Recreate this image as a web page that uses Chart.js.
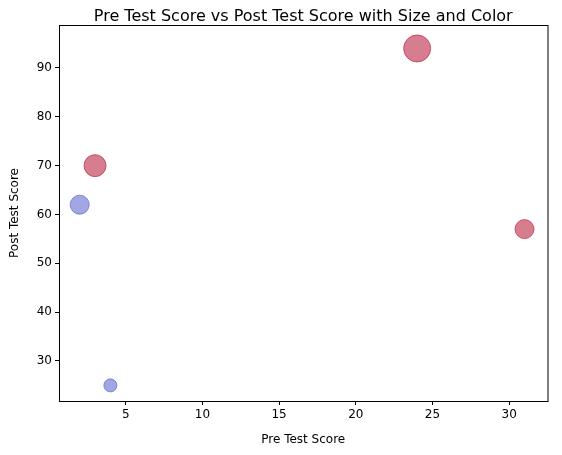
<!DOCTYPE html>
<html>
<head>
<meta charset="utf-8">
<script src="https://cdn.jsdelivr.net/npm/chart.js@4"></script>
<style>body{margin:0;background:#fff}</style>
</head>
<body>
<canvas id="c" width="562" height="455"></canvas>
<script>
// data
const preScores = [2, 3, 4, 24, 31];
const postScores = [62, 70, 25, 94, 57];
const sizes = [9.5, 11, 6.5, 13.5, 9.5];
const groups = ["blue", "red", "blue", "red", "red"];
const titleText = "Pre Test Score vs Post Test Score with Size and Color";

const fill = { red: "rgba(196,70,96,0.7)", blue: "rgba(110,120,212,0.65)" };
const edge = { red: "rgba(190,60,90,0.8)", blue: "rgba(100,110,205,0.75)" };

// box round the plot and the title centred over it
const frame = {
  id: "frame",
  afterDraw(chart) {
    const { ctx, chartArea: a } = chart;
    ctx.save();
    ctx.strokeStyle = "#000";
    ctx.lineWidth = 1;
    ctx.strokeRect(a.left + 0.5, a.top + 0.5, a.right - a.left, a.bottom - a.top);
    ctx.fillStyle = "#000";
    ctx.font = "16px 'DejaVu Sans'";
    ctx.textAlign = "center";
    ctx.textBaseline = "middle";
    ctx.fillText(titleText, (a.left + a.right) / 2, 17);
    ctx.restore();
  }
};

new Chart(document.getElementById("c"), {
  type: "bubble",
  data: {
    datasets: [{
      data: preScores.map((x, i) => ({ x: x, y: postScores[i], r: sizes[i] })),
      backgroundColor: groups.map(g => fill[g]),
      borderColor: groups.map(g => edge[g]),
      borderWidth: 1
    }]
  },
  options: {
    responsive: false,
    animation: false,
    layout: { padding: { top: 25, right: 0, bottom: 6, left: 6 } },
    plugins: {
      legend: { display: false },
      tooltip: { enabled: false },
      title: { display: false }
    },
    scales: {
      x: {
        type: "linear", min: 0.65, max: 32.5,
        afterBuildTicks: s => { s.ticks = [5, 10, 15, 20, 25, 30].map(v => ({ value: v })); },
        afterFit: s => { s.height = 48; },
        grid: { drawOnChartArea: false, color: "#000", tickLength: 4 },
        border: { color: "#000" },
        ticks: { color: "#000", font: { family: "DejaVu Sans", size: 12 } },
        title: { display: true, text: "Pre Test Score", color: "#000", font: { family: "DejaVu Sans", size: 12 }, padding: 2 }
      },
      y: {
        min: 21.8, max: 98.8,
        afterBuildTicks: s => { s.ticks = [30, 40, 50, 60, 70, 80, 90].map(v => ({ value: v })); },
        afterFit: s => { s.width = 53; },
        grid: { drawOnChartArea: false, color: "#000", tickLength: 4 },
        border: { color: "#000" },
        ticks: { color: "#000", font: { family: "DejaVu Sans", size: 12 } },
        title: { display: true, text: "Post Test Score", color: "#000", font: { family: "DejaVu Sans", size: 12 }, padding: 2 }
      }
    }
  },
  plugins: [frame]
});
</script>
</body>
</html>
